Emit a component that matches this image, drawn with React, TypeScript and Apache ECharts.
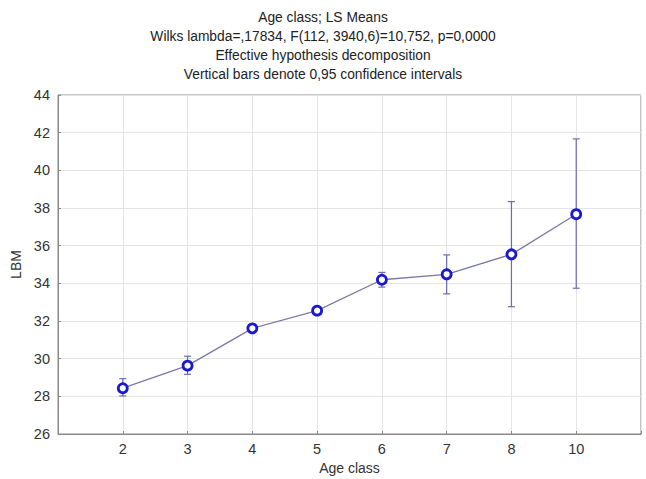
import React, { useEffect, useRef } from "react";
import * as echarts from "echarts";

const categories = ["2", "3", "4", "5", "6", "7", "8", "10"];
const means = [28.43, 29.63, 31.61, 32.55, 34.19, 34.48, 35.54, 37.67];
const lower = [28.02, 29.17, 31.45, 32.4, 33.8, 33.44, 32.76, 33.74];
const upper = [28.94, 30.13, 31.77, 32.72, 34.58, 35.51, 38.34, 41.67];
const titleLines = [
  "Age class; LS Means",
  "Wilks lambda=,17834, F(112, 3940,6)=10,752, p=0,0000",
  "Effective hypothesis decomposition",
  "Vertical bars denote 0,95 confidence intervals",
];
const yTicks = [26, 28, 30, 32, 34, 36, 38, 40, 42, 44];

export default function App() {
  const ref = useRef<HTMLDivElement>(null);
  useEffect(() => {
    if (!ref.current) return;
    const chart = echarts.init(ref.current, undefined, { renderer: "svg" });
    const font = "'Liberation Sans', Arial, sans-serif";
    const pos = categories.map((_, i) => i + 2);
    chart.setOption({
      animation: false,
      backgroundColor: "#ffffff",
      title: {
        text: titleLines.join("\n"),
        left: "center",
        top: 3,
        textStyle: { fontFamily: font, fontSize: 13.8, fontWeight: "normal", color: "#222", lineHeight: 19 },
      },
      grid: {
        left: 58,
        right: 5,
        top: 95,
        bottom: 45,
        show: true,
        borderColor: "#888",
        borderWidth: 1,
        containLabel: false,
        outerBoundsMode: "none",
      },
      xAxis: {
        type: "value",
        min: 1,
        max: 10,
        interval: 1,
        name: "Age class",
        nameLocation: "middle",
        nameGap: 27,
        nameTextStyle: { fontFamily: font, fontSize: 14, color: "#333" },
        axisLine: { show: true, lineStyle: { color: "#888" } },
        axisTick: { show: true, inside: true, length: 3, lineStyle: { color: "#888" } },
        axisLabel: {
          fontFamily: font,
          fontSize: 14.5,
          color: "#333",
          margin: 7,
          formatter: (v: number) => {
            const i = Math.round(v) - 2;
            return i >= 0 && i < categories.length ? categories[i] : "";
          },
        },
        splitLine: { show: true, lineStyle: { color: "#e4e4e4" } },
      },
      yAxis: {
        type: "value",
        min: yTicks[0],
        max: yTicks[yTicks.length - 1],
        interval: 2,
        name: "LBM",
        nameLocation: "middle",
        nameGap: 32,
        nameTextStyle: { fontFamily: font, fontSize: 14, color: "#333" },
        axisLine: { show: true, lineStyle: { color: "#888" } },
        axisTick: { show: true, inside: true, length: 3, lineStyle: { color: "#888" } },
        axisLabel: { fontFamily: font, fontSize: 14.5, color: "#333", margin: 8 },
        splitLine: { show: true, lineStyle: { color: "#e4e4e4" } },
      },
      series: [
        {
          type: "custom",
          data: pos.map((x, i) => [x, lower[i], upper[i]]),
          renderItem: (params: any, api: any) => {
            const x = api.value(0);
            const lo = api.coord([x, api.value(1)]);
            const hi = api.coord([x, api.value(2)]);
            const cap = 3.5;
            const style = { stroke: "#6a6ab8", lineWidth: 1.2 };
            return {
              type: "group",
              children: [
                { type: "line", shape: { x1: lo[0], y1: lo[1], x2: hi[0], y2: hi[1] }, style },
                { type: "line", shape: { x1: hi[0] - cap, y1: hi[1], x2: hi[0] + cap, y2: hi[1] }, style },
                { type: "line", shape: { x1: lo[0] - cap, y1: lo[1], x2: lo[0] + cap, y2: lo[1] }, style },
              ],
            };
          },
          z: 2,
        },
        {
          type: "line",
          data: pos.map((x, i) => [x, means[i]]),
          lineStyle: { color: "#7a7aa8", width: 1.3 },
          symbol: "circle",
          symbolSize: 9,
          itemStyle: { color: "#ffffff", borderColor: "#1a1acc", borderWidth: 2.8 },
          z: 3,
        },
      ],
    });
    return () => chart.dispose();
  }, []);
  return (
    <div
      ref={ref}
      style={{ position: "absolute", left: 0, top: 0, width: 646, height: 479 }}
    />
  );
}
